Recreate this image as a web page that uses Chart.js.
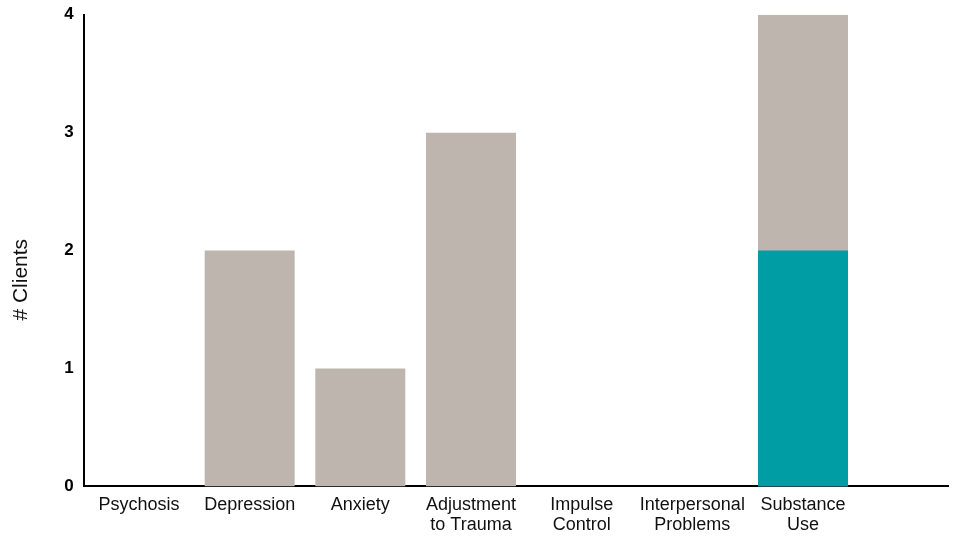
<!DOCTYPE html>
<html><head><meta charset="utf-8">
<script src="https://cdn.jsdelivr.net/npm/chart.js@4"></script>
<style>html,body{margin:0;padding:0;background:#fff}#wrap{width:963px;height:536px}</style>
</head><body><div id="wrap"><canvas id="c" width="963" height="536"></canvas></div>
<script>
const categories = [["Psychosis"],["Depression"],["Anxiety"],["Adjustment","to Trauma"],["Impulse","Control"],["Interpersonal","Problems"],["Substance","Use"]];
const totalClients = [0, 2, 1, 3, 0, 0, 4];
const highlightClients = [0, 0, 0, 0, 0, 0, 2];
const yTicks = [0, 1, 2, 3, 4];
const yTitle = '# Clients';

const toPoints = arr => arr.map((v, i) => ({x: i, y: v}));
const FONT = 'Liberation Sans, Arial, sans-serif';

new Chart(document.getElementById('c'), {
  type: 'bar',
  data: {
    datasets: [
      {label: 'Highlight', data: toPoints(highlightClients), backgroundColor: '#009DA5', order: 0},
      {label: 'Total', data: toPoints(totalClients), backgroundColor: '#BEB5AE', order: 1}
    ]
  },
  options: {
    responsive: false,
    animation: false,
    devicePixelRatio: 1,
    layout: {padding: {top: 0, right: 15, left: 0, bottom: 0}},
    datasets: {bar: {grouped: false, categoryPercentage: 1, barPercentage: 0.813}},
    plugins: {legend: {display: false}, tooltip: {enabled: false}},
    scales: {
      x: {
        type: 'linear',
        offset: false,
        min: -0.5,
        max: 7.31,
        grid: {display: false},
        border: {display: true, color: '#000', width: 2},
        afterBuildTicks: s => { s.ticks = categories.map((_, i) => ({value: i})); },
        ticks: {
          autoSkip: false, maxRotation: 0, color: '#111', padding: 1,
          font: {family: FONT, size: 18, lineHeight: 1.1},
          callback: v => categories[v] || ''
        }
      },
      y: {
        min: 0, max: 4,
        grid: {display: false},
        border: {display: true, color: '#000', width: 2},
        afterBuildTicks: s => { s.ticks = yTicks.map(v => ({value: v})); },
        ticks: {color: '#000', padding: 2, font: {family: FONT, size: 17, weight: 'bold', lineHeight: 1.5}},
        title: {display: true, text: yTitle + '\u00A0'.repeat(10), color: '#111', padding: {top: 9, bottom: 28}, font: {family: FONT, size: 21, lineHeight: 1.2}}
      }
    }
  }
});
</script></body></html>
